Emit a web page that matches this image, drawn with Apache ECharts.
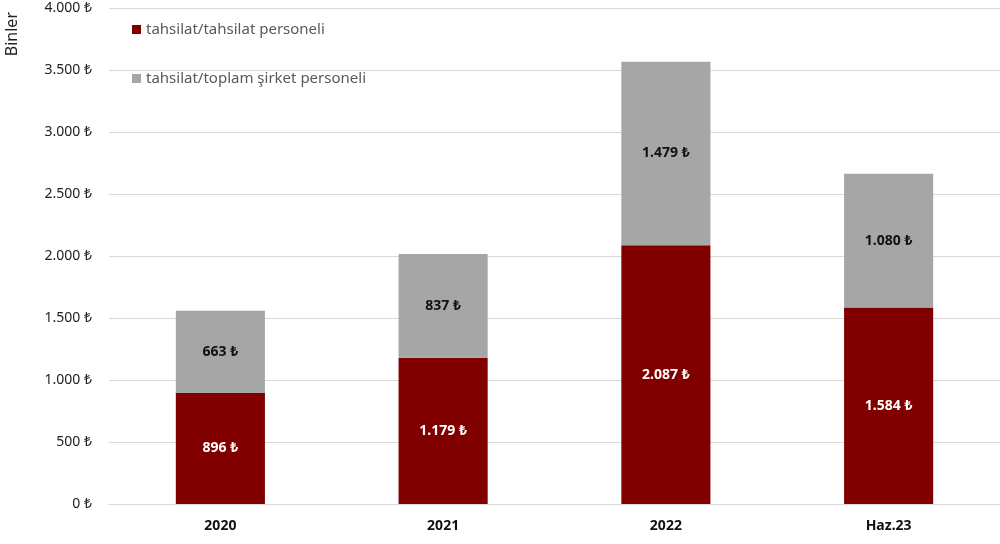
<!DOCTYPE html>
<html><head><meta charset="utf-8">
<script src="https://cdn.jsdelivr.net/npm/echarts@6/dist/echarts.min.js"></script>
<style>html,body{margin:0;padding:0;background:#fff}#c{width:1000px;height:544px}</style>
</head><body><div id="c"></div>
<script>
const categories = ['2020', '2021', '2022', 'Haz.23'];
const tahsilatPersoneli = [896, 1179, 2087, 1584];
const toplamPersonel = [663, 837, 1479, 1080];
const seriesNames = ['tahsilat/tahsilat personeli', 'tahsilat/toplam şirket personeli'];

function fmt(v) {
  return String(Math.round(v)).replace(/\B(?=(\d{3})+(?!\d))/g, '.') + ' ₺';
}
const FONT = '"Noto Sans", "DejaVu Sans", sans-serif';
const chart = echarts.init(document.getElementById('c'));
chart.setOption({
  animation: false,
  textStyle: { fontFamily: FONT },
  grid: { left: 109, right: 0, top: 8, bottom: 40 },
  graphic: [{
    type: 'text', left: 4, top: 12, rotation: Math.PI / 2,
    style: { text: 'Binler', font: '16px ' + FONT, fill: '#222' }
  }],
  legend: {
    orient: 'vertical', left: 127, top: 17, itemGap: 34,
    itemWidth: 9, itemHeight: 9, icon: 'rect',
    textStyle: { fontSize: 15, color: '#595959', fontFamily: FONT },
    data: seriesNames
  },
  xAxis: {
    type: 'category', data: categories,
    axisLine: { lineStyle: { color: '#d9d9d9', width: 1 } },
    axisTick: { show: false },
    axisLabel: { color: '#111', fontWeight: 'bold', fontSize: 14, margin: 15, fontFamily: FONT }
  },
  yAxis: {
    type: 'value', min: 0, max: 4000, interval: 500,
    axisLine: { show: false }, axisTick: { show: false },
    splitLine: { lineStyle: { color: '#d9d9d9', width: 1 } },
    axisLabel: { formatter: fmt, color: '#222', fontSize: 14, margin: 17, fontFamily: FONT }
  },
  series: [{
    name: seriesNames[0], type: 'bar', stack: 'a', data: tahsilatPersoneli,
    barWidth: '40%', itemStyle: { color: '#800000' },
    label: { show: true, position: 'inside', formatter: p => fmt(p.value), color: '#fff', fontWeight: 'bold', fontSize: 14, fontFamily: FONT }
  }, {
    name: seriesNames[1], type: 'bar', stack: 'a', data: toplamPersonel,
    barWidth: '40%', itemStyle: { color: '#a6a6a6' },
    label: { show: true, position: 'inside', formatter: p => fmt(p.value), color: '#111', fontWeight: 'bold', fontSize: 14, fontFamily: FONT }
  }]
});
</script></body></html>
